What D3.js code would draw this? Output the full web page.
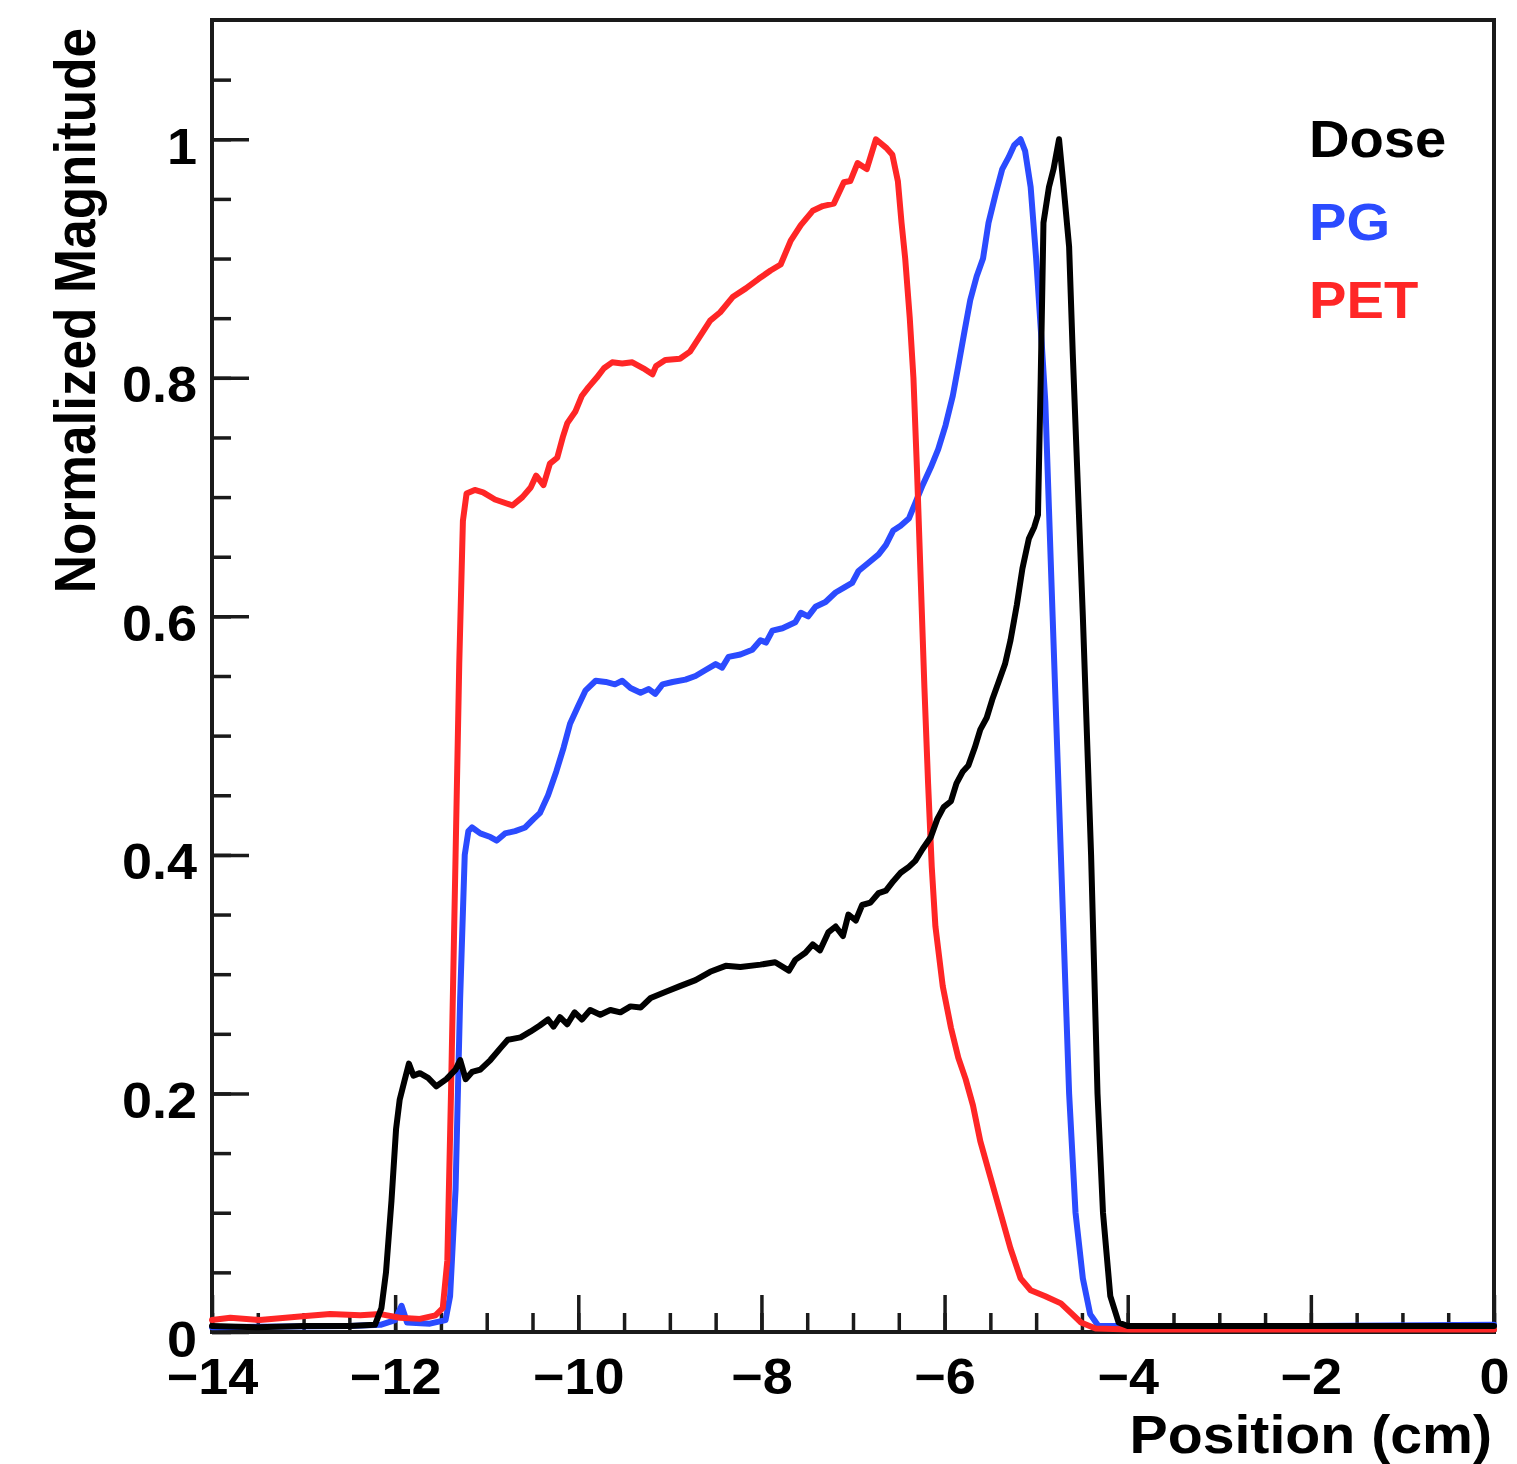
<!DOCTYPE html>
<html>
<head>
<meta charset="utf-8">
<script src="https://cdn.jsdelivr.net/npm/d3@7"></script>
<style>
  body { margin: 0; background: #ffffff; }
  text { font-family: "Liberation Sans", Arial, Helvetica, sans-serif; font-weight: bold; }
</style>
</head>
<body>
<svg id="chart" width="1517" height="1464"></svg>
<script>
// Axis tick values
const xMajorTicks = [-14, -12, -10, -8, -6, -4, -2, 0];
const yMajorTicks = [0, 0.2, 0.4, 0.6, 0.8, 1];

// Legend entries
const seriesNames = ["Dose", "PG", "PET"];

// Depth profiles: [position (cm), normalized magnitude]
const doseProfile = [
  [-14, 0.005], [-13.5, 0.004], [-13, 0.005], [-12.5, 0.005], [-12.22, 0.006], [-12.15, 0.02],
  [-12.1, 0.05], [-12.04, 0.11], [-11.99, 0.17], [-11.95, 0.195], [-11.9, 0.21], [-11.85, 0.225],
  [-11.8, 0.215], [-11.73, 0.217], [-11.64, 0.213], [-11.55, 0.206], [-11.44, 0.212], [-11.34, 0.22],
  [-11.29, 0.228], [-11.23, 0.212], [-11.16, 0.218], [-11.07, 0.22], [-10.96, 0.228], [-10.85, 0.238],
  [-10.77, 0.245], [-10.63, 0.247], [-10.52, 0.252], [-10.42, 0.257], [-10.33, 0.262], [-10.27, 0.256],
  [-10.2, 0.264], [-10.12, 0.258], [-10.04, 0.268], [-9.96, 0.262], [-9.87, 0.27], [-9.76, 0.266],
  [-9.65, 0.27], [-9.54, 0.268], [-9.43, 0.273], [-9.32, 0.272], [-9.21, 0.28], [-9.05, 0.285],
  [-8.89, 0.29], [-8.72, 0.295], [-8.56, 0.302], [-8.39, 0.307], [-8.23, 0.306], [-8.01, 0.308],
  [-7.85, 0.31], [-7.7, 0.303], [-7.63, 0.312], [-7.52, 0.318], [-7.44, 0.325], [-7.36, 0.32],
  [-7.27, 0.335], [-7.19, 0.34], [-7.11, 0.332], [-7.05, 0.35], [-6.97, 0.345], [-6.9, 0.358],
  [-6.81, 0.36], [-6.72, 0.368], [-6.64, 0.37], [-6.56, 0.378], [-6.48, 0.385], [-6.39, 0.39],
  [-6.32, 0.395], [-6.24, 0.405], [-6.15, 0.415], [-6.08, 0.43], [-6.01, 0.44], [-5.93, 0.445],
  [-5.87, 0.46], [-5.8, 0.47], [-5.74, 0.475], [-5.67, 0.49], [-5.61, 0.505], [-5.54, 0.515],
  [-5.48, 0.53], [-5.41, 0.545], [-5.34, 0.56], [-5.28, 0.58], [-5.21, 0.61], [-5.15, 0.64],
  [-5.08, 0.665], [-5.02, 0.675], [-4.98, 0.685], [-4.95, 0.8], [-4.92, 0.93], [-4.86, 0.96],
  [-4.81, 0.975], [-4.75, 1.0], [-4.7, 0.96], [-4.64, 0.91], [-4.6, 0.82], [-4.49, 0.6],
  [-4.4, 0.4], [-4.33, 0.2], [-4.27, 0.1], [-4.19, 0.03], [-4.1, 0.008], [-4.0, 0.005],
  [-3, 0.005], [-2, 0.005], [-1, 0.005], [0, 0.005]
];

const pgProfile = [
  [-14, 0.004], [-12.5, 0.005], [-12.16, 0.006], [-12.0, 0.01], [-11.93, 0.022], [-11.87, 0.008],
  [-11.62, 0.007], [-11.45, 0.01], [-11.4, 0.03], [-11.34, 0.12], [-11.29, 0.28], [-11.24, 0.4],
  [-11.2, 0.42], [-11.16, 0.423], [-11.07, 0.418], [-10.96, 0.415], [-10.89, 0.412], [-10.8, 0.418],
  [-10.69, 0.42], [-10.58, 0.423], [-10.49, 0.43], [-10.42, 0.435], [-10.33, 0.45], [-10.24, 0.47],
  [-10.16, 0.49], [-10.09, 0.51], [-10.0, 0.525], [-9.92, 0.538], [-9.81, 0.546], [-9.7, 0.545],
  [-9.6, 0.543], [-9.52, 0.546], [-9.43, 0.54], [-9.32, 0.536], [-9.23, 0.539], [-9.16, 0.535],
  [-9.08, 0.543], [-8.97, 0.545], [-8.83, 0.547], [-8.72, 0.55], [-8.61, 0.555], [-8.5, 0.56],
  [-8.43, 0.557], [-8.36, 0.566], [-8.23, 0.568], [-8.1, 0.572], [-8.01, 0.58], [-7.95, 0.578],
  [-7.88, 0.588], [-7.77, 0.59], [-7.63, 0.595], [-7.57, 0.603], [-7.49, 0.6], [-7.41, 0.608],
  [-7.3, 0.612], [-7.19, 0.62], [-7.08, 0.625], [-7.01, 0.628], [-6.94, 0.638], [-6.83, 0.645],
  [-6.72, 0.652], [-6.64, 0.66], [-6.56, 0.672], [-6.48, 0.676], [-6.39, 0.682], [-6.32, 0.695],
  [-6.24, 0.71], [-6.15, 0.725], [-6.07, 0.74], [-5.99, 0.76], [-5.91, 0.785], [-5.85, 0.81],
  [-5.78, 0.84], [-5.72, 0.865], [-5.65, 0.885], [-5.58, 0.9], [-5.52, 0.93], [-5.44, 0.955],
  [-5.37, 0.975], [-5.3, 0.985], [-5.24, 0.995], [-5.17, 1.0], [-5.12, 0.99], [-5.06, 0.96],
  [-5.0, 0.9], [-4.94, 0.83], [-4.9, 0.78], [-4.82, 0.6], [-4.73, 0.4], [-4.64, 0.2],
  [-4.57, 0.1], [-4.49, 0.045], [-4.41, 0.015], [-4.32, 0.005], [-2, 0.005], [0, 0.006]
];

const petProfile = [
  [-14, 0.01], [-13.8, 0.012], [-13.48, 0.01], [-13.04, 0.013], [-12.71, 0.015], [-12.38, 0.014],
  [-12.16, 0.015], [-11.95, 0.012], [-11.73, 0.011], [-11.56, 0.014], [-11.48, 0.02], [-11.43, 0.06],
  [-11.39, 0.2], [-11.34, 0.4], [-11.3, 0.56], [-11.26, 0.68], [-11.22, 0.703], [-11.13, 0.706],
  [-11.04, 0.704], [-10.91, 0.698], [-10.72, 0.693], [-10.61, 0.7], [-10.52, 0.708], [-10.46, 0.718],
  [-10.38, 0.71], [-10.31, 0.728], [-10.23, 0.733], [-10.17, 0.75], [-10.12, 0.762], [-10.03, 0.772],
  [-9.96, 0.785], [-9.89, 0.792], [-9.8, 0.8], [-9.72, 0.808], [-9.63, 0.813], [-9.52, 0.812],
  [-9.41, 0.813], [-9.29, 0.808], [-9.19, 0.803], [-9.15, 0.81], [-9.05, 0.815], [-8.89, 0.816],
  [-8.78, 0.822], [-8.67, 0.835], [-8.56, 0.848], [-8.45, 0.855], [-8.31, 0.868], [-8.17, 0.875],
  [-8.03, 0.883], [-7.9, 0.89], [-7.79, 0.895], [-7.68, 0.915], [-7.57, 0.928], [-7.44, 0.94],
  [-7.33, 0.944], [-7.21, 0.946], [-7.1, 0.964], [-7.03, 0.965], [-6.95, 0.98], [-6.85, 0.975],
  [-6.75, 1.0], [-6.64, 0.993], [-6.57, 0.987], [-6.51, 0.965], [-6.47, 0.93], [-6.43, 0.9],
  [-6.38, 0.85], [-6.34, 0.8], [-6.3, 0.72], [-6.26, 0.63], [-6.22, 0.54], [-6.18, 0.46],
  [-6.14, 0.39], [-6.1, 0.34], [-6.02, 0.29], [-5.93, 0.255], [-5.85, 0.23], [-5.77, 0.212],
  [-5.69, 0.19], [-5.61, 0.16], [-5.5, 0.13], [-5.39, 0.1], [-5.28, 0.07], [-5.17, 0.045],
  [-5.06, 0.035], [-4.9, 0.03], [-4.73, 0.024], [-4.62, 0.016], [-4.51, 0.008], [-4.35, 0.003],
  [-3.97, 0.002], [0, 0.002]
];

const width = 1517, height = 1464;
const margin = { top: 20, right: 23, bottom: 132, left: 212 };
const plotW = width - margin.left - margin.right;
const plotH = height - margin.top - margin.bottom;

// Text is drawn slightly widened, as in the original ROOT canvas export
const widen = 1.08;

const svg = d3.select("#chart");
const g = svg.append("g").attr("transform", `translate(${margin.left},${margin.top})`);

const x = d3.scaleLinear().domain([-14, 0]).range([0, plotW]);
const y = d3.scaleLinear().domain([0, 1.1]).range([plotH, 0]);

const axisColor = "#1a1a1a";

// Minor ticks (pointing inward)
g.append("g")
  .attr("transform", `translate(0,${plotH})`)
  .call(d3.axisBottom(x).tickValues(d3.range(-14, 0.001, 0.5)).tickSize(-19).tickFormat(""))
  .call(a => a.select(".domain").remove());
g.append("g")
  .call(d3.axisLeft(y).tickValues(d3.range(0, 1.0501, 0.05)).tickSize(-19).tickFormat(""))
  .call(a => a.select(".domain").remove());

// Major ticks with labels
const xAxis = g.append("g")
  .attr("transform", `translate(0,${plotH})`)
  .call(d3.axisBottom(x).tickValues(xMajorTicks).tickSize(-37).tickPadding(27))
  .call(a => a.select(".domain").remove());
const yAxis = g.append("g")
  .call(d3.axisLeft(y).tickValues(yMajorTicks).tickSize(-37).tickPadding(15).tickFormat(d3.format("")))
  .call(a => a.select(".domain").remove());

g.selectAll(".tick line").attr("stroke", axisColor).attr("stroke-width", 3.5);
g.selectAll(".tick text")
  .attr("fill", "#000")
  .style("font-size", "50px")
  .style("font-family", '"Liberation Sans", Arial, sans-serif')
  .style("font-weight", "bold");
xAxis.selectAll(".tick text").attr("transform", `scale(${widen},1)`);
yAxis.selectAll(".tick text")
  .attr("dy", "0.48em")
  .attr("x", -15 / widen)
  .attr("transform", `scale(${widen},1)`);

// Frame
g.append("rect")
  .attr("x", 0).attr("y", 0).attr("width", plotW).attr("height", plotH)
  .attr("fill", "none").attr("stroke", axisColor).attr("stroke-width", 4);

// Curves
const line = d3.line().x(d => x(d[0])).y(d => y(d[1]));
const curves = [
  { data: pgProfile, color: "#2b4bff" },
  { data: petProfile, color: "#ff2626" },
  { data: doseProfile, color: "#000000" }
];
g.selectAll("path.curve")
  .data(curves)
  .join("path")
  .attr("class", "curve")
  .attr("d", d => line(d.data))
  .attr("fill", "none")
  .attr("stroke", d => d.color)
  .attr("stroke-width", 6)
  .attr("stroke-linejoin", "round")
  .attr("stroke-linecap", "round");

// Legend
const legendColors = ["#000000", "#2b4bff", "#ff2626"];
const legendBase = [157, 240, 318];
svg.append("g").selectAll("text")
  .data(seriesNames)
  .join("text")
  .attr("transform", (d, i) => `translate(1309,${legendBase[i]}) scale(${widen},1)`)
  .attr("fill", (d, i) => legendColors[i])
  .style("font-size", "52px")
  .text(d => d);

// Axis titles
svg.append("text")
  .attr("transform", `translate(1492,1453) scale(${widen},1)`)
  .attr("text-anchor", "end")
  .style("font-size", "53px")
  .text("Position (cm)");

svg.append("text")
  .attr("transform", `translate(95,28) scale(${widen},1) rotate(-90)`)
  .attr("text-anchor", "end")
  .style("font-size", "53px")
  .text("Normalized Magnitude");
</script>
</body>
</html>
